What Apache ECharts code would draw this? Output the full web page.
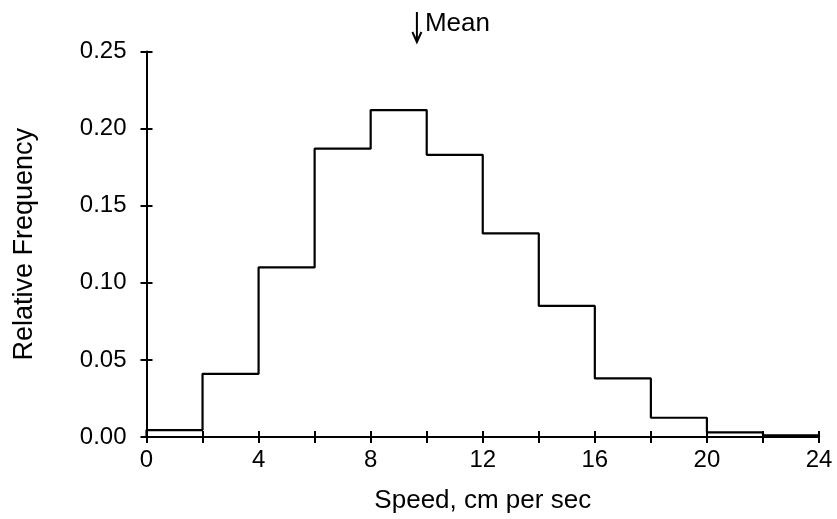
<!DOCTYPE html>
<html>
<head>
<meta charset="utf-8">
<script src="https://cdn.jsdelivr.net/npm/echarts@6/dist/echarts.min.js"></script>
<style>
html,body{margin:0;padding:0;background:#fff;}
#chart{width:837px;height:519px;}
</style>
</head>
<body>
<div id="chart"></div>
<script>
// ---- data ----
var binEdges = [0, 2, 4, 6, 8, 10, 12, 14, 16, 18, 20, 22, 24];
var relFreq = [0.0045, 0.041, 0.110, 0.187, 0.212, 0.183, 0.132, 0.085, 0.038, 0.0125, 0.003, 0.001];
var xTickLabels = ['0', '4', '8', '12', '16', '20', '24'];
var yTickLabels = ['0.00', '0.05', '0.10', '0.15', '0.20', '0.25'];
var meanSpeed = 9.65;
var xTitle = 'Speed, cm per sec';
var yTitle = 'Relative Frequency';
var meanLabel = 'Mean';

// build step outline from bins
var stepPts = [[binEdges[0], 0]];
for (var i = 0; i < relFreq.length; i++) {
  stepPts.push([binEdges[i], relFreq[i]]);
}
stepPts.push([binEdges[binEdges.length - 1], relFreq[relFreq.length - 1]]);
stepPts.push([binEdges[binEdges.length - 1], 0]);

var FONT = '"Liberation Sans", Arial, Helvetica, sans-serif';
var chart = echarts.init(document.getElementById('chart'), null, {renderer: 'canvas'});

var axisLine = {show: true, lineStyle: {color: '#000', width: 2}};
var tickStyle = {color: '#000', width: 2};

var option = {
  backgroundColor: '#fff',
  animation: false,
  grid: {left: 146.5, top: 51.5, width: 672.5, height: 385.5, containLabel: false},
  xAxis: [{
    type: 'value', min: 0, max: 24, interval: 2,
    axisLine: axisLine,
    axisTick: {show: true, inside: false, length: 6, lineStyle: tickStyle},
    splitLine: {show: false},
    axisLabel: {
      color: '#000', fontFamily: FONT, fontSize: 24, margin: 11,
      formatter: function (v) {
        var s = String(v);
        return xTickLabels.indexOf(s) >= 0 ? s : '';
      }
    },
    name: xTitle, nameLocation: 'middle', nameGap: 51,
    nameTextStyle: {color: '#000', fontFamily: FONT, fontSize: 26}
  }, {
    type: 'value', min: 0, max: 24, interval: 2, position: 'bottom',
    axisLine: {show: false},
    axisTick: {show: true, inside: true, length: 6, lineStyle: tickStyle},
    axisLabel: {show: false}, splitLine: {show: false}
  }],
  yAxis: [{
    type: 'value', min: 0, max: 0.25, interval: 0.05,
    axisLine: axisLine,
    axisTick: {show: true, inside: false, length: 6, lineStyle: tickStyle},
    splitLine: {show: false},
    axisLabel: {
      color: '#000', fontFamily: FONT, fontSize: 24, margin: 20,
      formatter: function (v) {
        var idx = Math.round(v / 0.05);
        return yTickLabels[idx] !== undefined ? yTickLabels[idx] : '';
      }
    },
    name: yTitle, nameLocation: 'middle', nameGap: 108, nameRotate: 90,
    nameTextStyle: {color: '#000', fontFamily: FONT, fontSize: 27}
  }, {
    type: 'value', min: 0, max: 0.25, interval: 0.05, position: 'left',
    axisLine: {show: false},
    axisTick: {show: true, inside: true, length: 6, lineStyle: tickStyle},
    axisLabel: {show: false}, splitLine: {show: false}
  }],
  series: [{
    type: 'line',
    xAxisIndex: 0, yAxisIndex: 0,
    data: stepPts,
    step: 'end',
    symbol: 'none',
    clip: false,
    lineStyle: {color: '#000', width: 2.2},
    z: 1
  }]
};
chart.setOption(option);

// mean marker
var mx = chart.convertToPixel({xAxisIndex: 0}, meanSpeed);
chart.setOption({
  graphic: [
    {type: 'line', shape: {x1: mx, y1: 12, x2: mx, y2: 40}, style: {stroke: '#000', lineWidth: 2}},
    {type: 'polyline', shape: {points: [[mx - 4.5, 32], [mx, 42], [mx + 4.5, 32]]}, style: {stroke: '#000', lineWidth: 2, fill: null}},
    {type: 'text', style: {text: meanLabel, x: mx + 8, y: 24, verticalAlign: 'middle', textVerticalAlign: 'middle', font: '26px ' + FONT, fill: '#000'}}
  ]
});
</script>
</body>
</html>
